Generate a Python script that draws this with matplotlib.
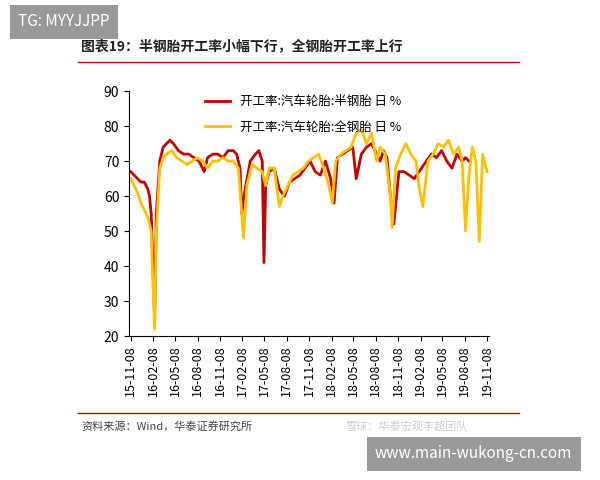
import matplotlib
matplotlib.use("Agg")
import matplotlib.pyplot as plt
import matplotlib.dates as mdates
import pandas as pd

plt.rcParams['font.family'] = ['Noto Sans CJK SC', 'DejaVu Sans']

semi_dates = ["2015-11-08","2015-11-22","2015-12-06","2015-12-20","2016-01-03","2016-01-17","2016-01-24","2016-01-31","2016-02-07","2016-02-14","2016-02-21","2016-03-06","2016-03-20","2016-04-03","2016-04-17","2016-05-01","2016-05-22","2016-06-12","2016-07-03","2016-07-24","2016-08-14","2016-09-04","2016-09-18","2016-10-09","2016-10-30","2016-11-20","2016-12-11","2017-01-01","2017-01-15","2017-01-29","2017-02-05","2017-02-19","2017-03-12","2017-04-02","2017-04-16","2017-04-30","2017-05-07","2017-05-14","2017-05-28","2017-06-18","2017-07-09","2017-07-30","2017-08-20","2017-09-10","2017-10-01","2017-10-22","2017-11-12","2017-12-03","2017-12-24","2018-01-14","2018-02-04","2018-02-18","2018-03-04","2018-03-25","2018-04-15","2018-05-06","2018-05-20","2018-06-10","2018-07-01","2018-07-22","2018-08-12","2018-08-26","2018-09-09","2018-09-23","2018-10-07","2018-10-21","2018-11-11","2018-12-02","2018-12-23","2019-01-13","2019-03-03","2019-03-24","2019-04-14","2019-05-05","2019-05-26","2019-06-16","2019-07-07","2019-07-28","2019-08-11","2019-08-25"]
semi_vals = [67,66,65,64,64,62,60,55,40,25,55,70,74,75,76,75,73,72,72,71,70,67,71,72,72,71,73,73,72,68,55,62,70,72,73,70,41,63,67,68,62,60,64,65,66,68,70,67,66,70,65,58,71,72,73,74,65,72,74,75,72,70,73,71,60,52,67,67,66,65,70,72,71,73,70,68,72,70,71,70]

full_dates = ["2015-11-08","2015-11-22","2015-12-06","2015-12-20","2016-01-03","2016-01-17","2016-01-31","2016-02-07","2016-02-14","2016-02-21","2016-03-06","2016-03-20","2016-04-03","2016-04-24","2016-05-15","2016-06-05","2016-06-26","2016-07-17","2016-08-07","2016-08-28","2016-09-18","2016-10-09","2016-10-30","2016-11-20","2016-12-11","2017-01-01","2017-01-22","2017-02-05","2017-02-12","2017-02-26","2017-03-19","2017-04-09","2017-04-30","2017-05-14","2017-05-28","2017-06-18","2017-07-09","2017-07-23","2017-08-13","2017-09-03","2017-09-24","2017-10-15","2017-11-05","2017-11-26","2017-12-17","2018-01-07","2018-01-28","2018-02-11","2018-02-25","2018-03-18","2018-04-08","2018-04-29","2018-05-20","2018-06-10","2018-07-01","2018-07-22","2018-08-12","2018-08-26","2018-09-16","2018-10-07","2018-10-14","2018-10-28","2018-11-18","2018-12-09","2018-12-30","2019-01-20","2019-02-03","2019-02-17","2019-03-10","2019-03-31","2019-04-21","2019-05-12","2019-06-02","2019-06-23","2019-07-14","2019-07-28","2019-08-11","2019-08-25","2019-09-08","2019-09-22","2019-10-06","2019-10-20","2019-11-03","2019-11-08"]
full_vals = [65,63,61,58,56,54,50,35,22,50,68,71,72,73,71,70,69,70,71,70,68,70,70,71,70,70,68,55,48,63,69,68,67,63,68,68,57,60,63,66,67,68,70,71,72,68,63,58,70,72,73,74,78,79,75,78,70,74,72,60,51,68,72,75,72,70,62,57,70,72,75,74,76,72,74,70,50,66,74,70,47,72,68,67]

tick_dates = ["2015-11-08","2016-02-08","2016-05-08","2016-08-08","2016-11-08","2017-02-08","2017-05-08","2017-08-08","2017-11-08","2018-02-08","2018-05-08","2018-08-08","2018-11-08","2019-02-08","2019-05-08","2019-08-08","2019-11-08"]

semi = pd.Series(semi_vals, index=pd.to_datetime(semi_dates))
full = pd.Series(full_vals, index=pd.to_datetime(full_dates))

fig = plt.figure(figsize=(6, 4.8), dpi=100)
ax = fig.add_axes([0.215, 0.3, 0.6, 0.51])
ax.plot(semi.index, semi.values, color='#C00000', lw=2, label='开工率:汽车轮胎:半钢胎 日 %')
ax.plot(full.index, full.values, color='#FFC000', lw=2, label='开工率:汽车轮胎:全钢胎 日 %')
ax.set_ylim(20, 90)
ax.set_yticks(range(20, 91, 10))
ax.set_xticks(pd.to_datetime(tick_dates))
ax.xaxis.set_major_formatter(mdates.DateFormatter('%y-%m-%d'))
ax.set_xlim(pd.Timestamp("2015-11-01"), pd.Timestamp("2019-11-15"))
plt.setp(ax.get_xticklabels(), rotation=90, fontsize=9)
ax.tick_params(axis='y', labelsize=10)
for s in ['top', 'right']:
    ax.spines[s].set_visible(False)
ax.legend(loc='upper left', bbox_to_anchor=(0.18, 1.03), frameon=False, fontsize=9, labelspacing=1.0)

fig.text(0.135, 0.895, '图表19：半钢胎开工率小幅下行，全钢胎开工率上行', fontsize=10, fontweight='bold', color='#222222')
fig.add_artist(plt.Line2D([0.13, 0.865], [0.87, 0.87], color='#C00000', lw=1))
fig.add_artist(plt.Line2D([0.13, 0.865], [0.14, 0.14], color='#C00000', lw=1))
fig.text(0.135, 0.105, '资料来源：Wind，华泰证券研究所', fontsize=8, color='#444444')
fig.text(0.575, 0.105, '雪球：华泰宏观李超团队', fontsize=8, color='#cccccc')
fig.text(0.03, 0.945, 'TG: MYYJJPP', fontsize=11, color='white',
         bbox=dict(facecolor='#999999', edgecolor='none', pad=6))
fig.text(0.625, 0.045, 'www.main-wukong-cn.com', fontsize=11, color='white',
         bbox=dict(facecolor='#999999', edgecolor='none', pad=6))
fig.savefig('out.png', dpi=100)
